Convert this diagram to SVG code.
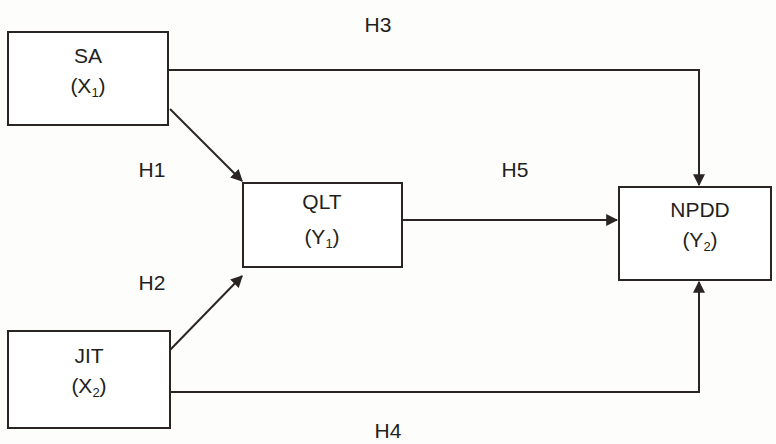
<svg xmlns="http://www.w3.org/2000/svg" width="776" height="444" viewBox="0 0 776 444">
<style>
.box{fill:#ffffff;stroke:#2a2522;stroke-width:2}
.t{font-family:"Liberation Sans",Arial,sans-serif;font-size:21px;fill:#231f1c;text-anchor:middle}
.s{font-size:13px}
.c{fill:none;stroke:#2a2522;stroke-width:2}
</style>
<defs>
<marker id="ah" viewBox="0 0 10 10" refX="9" refY="5" markerWidth="6" markerHeight="6" orient="auto" markerUnits="strokeWidth">
<path d="M0,0 L10,5 L0,10 z" fill="#2a2522"/>
</marker>
</defs>
<rect width="776" height="444" fill="#fdfdfc"/>
<g id="connectors">
<polyline class="c" points="169,70 699,70 699,185" marker-end="url(#ah)"/>
<line class="c" x1="170" y1="109" x2="242" y2="181" marker-end="url(#ah)"/>
<line class="c" x1="170" y1="350" x2="242" y2="276" marker-end="url(#ah)"/>
<line class="c" x1="403" y1="220" x2="617" y2="220" marker-end="url(#ah)"/>
<polyline class="c" points="171,392 699,392 699,282" marker-end="url(#ah)"/>
<text class="t" x="378" y="32">H3</text>
<text class="t" x="152" y="177">H1</text>
<text class="t" x="515" y="177">H5</text>
<text class="t" x="152" y="290">H2</text>
<text class="t" x="388" y="438">H4</text>
</g>
<g id="SA">
<rect class="box" x="8" y="32" width="160" height="93"/>
<text class="t" x="88" y="63">SA</text>
<text class="t" x="88" y="93">(X<tspan class="s" dy="4">1</tspan><tspan dy="-4">)</tspan></text>
</g>
<g id="JIT">
<rect class="box" x="8" y="331" width="162" height="97"/>
<text class="t" x="89" y="363">JIT</text>
<text class="t" x="89" y="393">(X<tspan class="s" dy="4">2</tspan><tspan dy="-4">)</tspan></text>
</g>
<g id="QLT">
<rect class="box" x="243" y="183" width="159" height="84"/>
<text class="t" x="322" y="209">QLT</text>
<text class="t" x="322" y="244">(Y<tspan class="s" dy="4">1</tspan><tspan dy="-4">)</tspan></text>
</g>
<g id="NPDD">
<rect class="box" x="619" y="187" width="152" height="93"/>
<text class="t" x="700" y="217">NPDD</text>
<text class="t" x="700" y="247">(Y<tspan class="s" dy="4">2</tspan><tspan dy="-4">)</tspan></text>
</g>
</svg>
